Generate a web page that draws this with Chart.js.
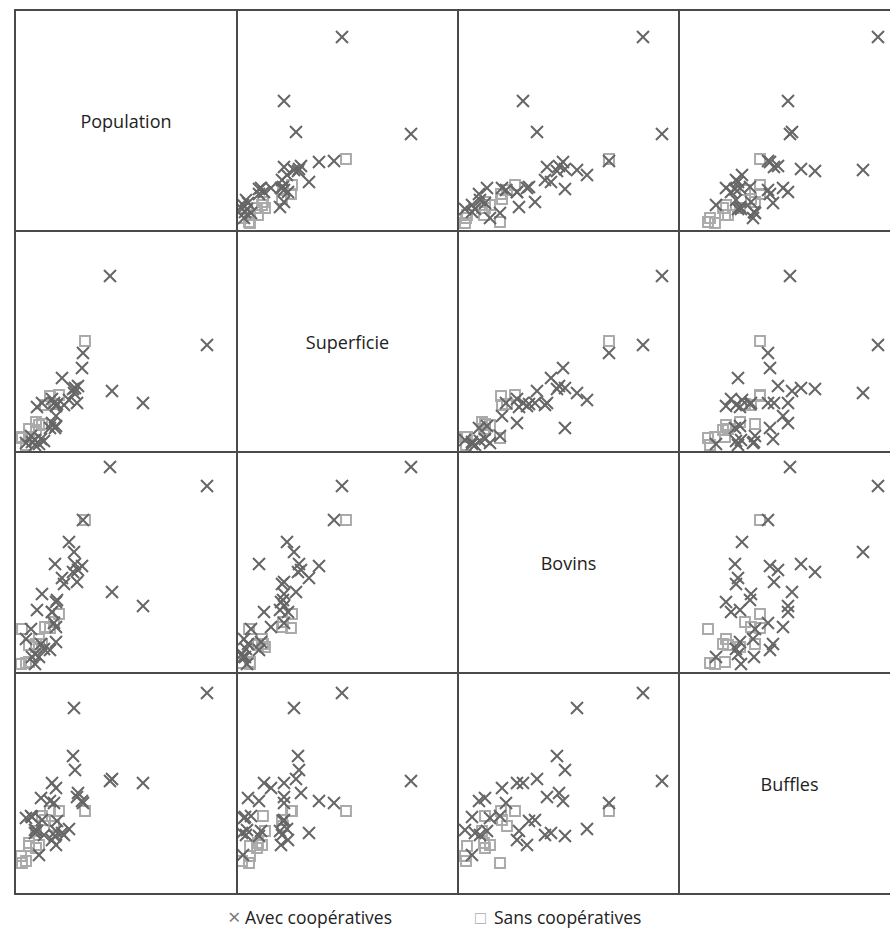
<!DOCTYPE html>
<html>
<head>
<meta charset="utf-8">
<script src="https://cdn.jsdelivr.net/npm/chart.js@4"></script>
<style>
  body { margin: 0; background: #fff; font-family: "Open Sans", sans-serif; }
  #page { position: relative; width: 890px; height: 932px; overflow: hidden; }
  .cell { position: absolute; box-sizing: border-box; border-left: 2px solid #4a4a4a; border-top: 2px solid #4a4a4a; }
  .cell canvas { display: block; }
  .diag { display: flex; align-items: center; justify-content: center; font-size: 18px; color: #222; }
  #bottomLine { position: absolute; left: 14px; top: 893px; width: 880px; height: 2px; background: #4a4a4a; }
  #legend { position: absolute; top: 905px; left: 0; width: 890px; font-size: 17.5px; color: #222; }
  #legend span { position: absolute; white-space: nowrap; }
</style>
</head>
<body>
<div id="page">
  <div id="bottomLine"></div>
  <div id="legend">
    <span style="left:228px; top:-1px; color:#777; font-size:22px; line-height:24px;">&#215;</span>
    <span style="left:245px; top:0px;">Avec coopératives</span>
    <span style="left:475px; top:0px; color:#aaa; font-size:18px; line-height:24px;">&#9633;</span>
    <span style="left:494px; top:0px;">Sans coopératives</span>
  </div>
</div>
<script>
document.addEventListener("DOMContentLoaded", function () {

    const variables = ["Population", "Superficie", "Bovins", "Buffles"];

    // Avec coopératives (index values)
    const avecPopulation = [193,129,98,96,69,68,48,60,59,61,55,64,63,41,42,38,43,38,42,23,28,30,21,21,42,12,17,27,25,50,36,40,18];
    const avecSuperficie = [106,48,60,175,98,83,73,58,62,63,51,65,48,23,35,28,47,52,45,44,48,10,11,6,25,8,15,12,7,46,23,48,9];
    const avecBovins     = [186,66,80,205,152,106,94,120,100,108,130,102,90,108,45,60,72,60,70,62,78,23,8,18,30,33,43,28,15,88,22,49,15];
    const avecBuffles    = [200,110,114,112,90,92,60,185,137,123,64,100,96,57,105,110,72,53,48,62,73,58,63,60,62,75,77,95,38,58,92,90,76];

    // Sans coopératives
    const sansPopulation = [71,45,40,36,31,28,25,22,22,15,15,8,7,12];
    const sansSuperficie = [110,56,47,55,46,27,26,29,21,22,14,13,14,6];
    const sansBovins     = [152,58,50,44,45,28,33,25,28,27,10,43,8,9];
    const sansBuffles    = [82,82,67,82,73,77,48,62,45,50,47,30,37,32];

    const avec = [avecPopulation, avecSuperficie, avecBovins, avecBuffles];
    const sans = [sansPopulation, sansSuperficie, sansBovins, sansBuffles];

    const colLeft = [14, 236, 457, 678, 899];
    const rowTop = [9, 230, 451, 672, 893];
    const page = document.getElementById("page");

    function pairs(xs, ys) {
        return xs.map(function (v, k) { return { x: v, y: ys[k] }; });
    }

    for (let i = 0; i < 4; i++) {
        for (let j = 0; j < 4; j++) {
            const w = colLeft[j + 1] - colLeft[j];
            const h = rowTop[i + 1] - rowTop[i];
            const cell = document.createElement("div");
            cell.className = "cell";
            cell.style.left = colLeft[j] + "px";
            cell.style.top = rowTop[i] + "px";
            cell.style.width = w + "px";
            cell.style.height = h + "px";
            page.appendChild(cell);

            if (i === j) {
                cell.classList.add("diag");
                cell.textContent = variables[i];
                continue;
            }

            const canvas = document.createElement("canvas");
            canvas.width = w - 2;
            canvas.height = h - 2;
            cell.appendChild(canvas);

            new Chart(canvas, {
                type: "scatter",
                data: {
                    datasets: [{
                        label: "Avec coopératives",
                        data: pairs(avec[j], avec[i]),
                        pointStyle: "crossRot",
                        pointRadius: 8.5,
                        borderColor: "#666",
                        borderWidth: 2
                    }, {
                        label: "Sans coopératives",
                        data: pairs(sans[j], sans[i]),
                        pointStyle: "rect",
                        pointRadius: 7,
                        borderColor: "#aaa",
                        backgroundColor: "rgba(0,0,0,0)",
                        borderWidth: 2
                    }]
                },
                options: {
                    responsive: false,
                    animation: false,
                    events: [],
                    layout: { padding: 0, autoPadding: false },
                    plugins: { legend: { display: false }, tooltip: { enabled: false } },
                    scales: {
                        x: { type: "linear", display: false, min: 2, max: w },
                        y: { type: "linear", display: false, min: 0, max: h - 2 }
                    }
                }
            });
        }
    }
});
</script>
</body>
</html>
